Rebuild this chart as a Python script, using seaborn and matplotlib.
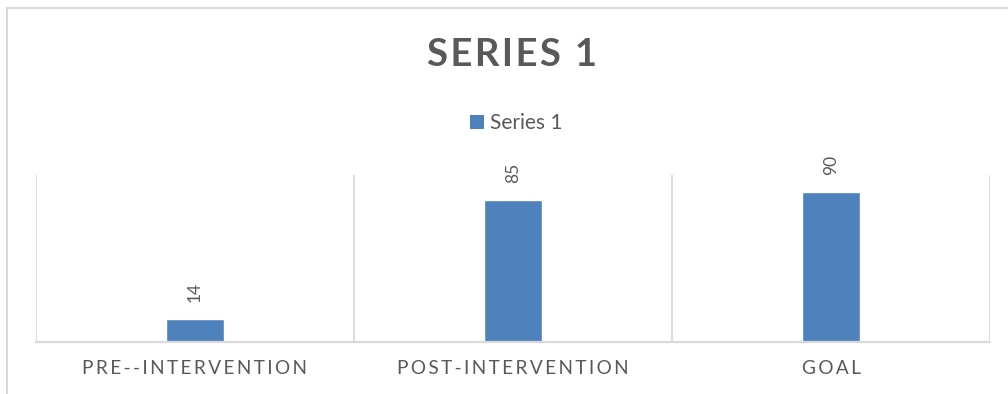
import matplotlib
matplotlib.use("Agg")
import matplotlib.pyplot as plt
from matplotlib.lines import Line2D
from matplotlib.patches import Patch
import seaborn as sns
import pandas as pd

categories = ["PRE--INTERVENTION", "POST-INTERVENTION", "GOAL"]
values = [14, 85, 90]
series_name = "Series 1"
title_text = "SERIES 1"

BLUE = "#4F81BD"
TEXT = "#595959"
GRID = "#D9D9D9"
FONTS = ["Lato", "DejaVu Sans"]


def spaced(s, sep="\u2009"):
    return sep.join(s)


sns.set_theme(style="white")
plt.rcParams["font.family"] = FONTS

df = pd.DataFrame({"category": categories, "value": values, "series": series_name})

fig = plt.figure(figsize=(10.08, 3.94), dpi=100)
W, H = 1008, 394
ax = fig.add_axes([36 / W, 52 / H, (990 - 36) / W, (342 - 175) / H])

sns.barplot(data=df, x="category", y="value", color=BLUE, width=0.18,
            saturation=1, ax=ax, legend=False)

ax.set_ylim(0, 100)
ax.set_xlim(-0.5, len(categories) - 0.5)
ax.set_xlabel("")
ax.set_ylabel("")
ax.set_yticks([])
ax.set_xticks(range(len(categories)))
ax.set_xticklabels([spaced(c) for c in categories], color=TEXT, fontsize=13.7)
ax.tick_params(axis="x", length=0, pad=13)

# category separators
ax.set_xticks([i - 0.5 for i in range(len(categories) + 1)], minor=True)
ax.tick_params(axis="x", which="minor", length=0)
ax.grid(True, which="minor", axis="x", color=GRID, linewidth=1.3)
ax.grid(False, which="major")

for side in ["top", "right", "left"]:
    ax.spines[side].set_visible(False)
ax.spines["bottom"].set_color(GRID)
ax.spines["bottom"].set_linewidth(1.6)

for cont in ax.containers:
    ax.bar_label(cont, labels=[str(v) for v in values], rotation=90,
                 padding=12, color=TEXT, fontsize=12.5)

fig.text(512 / W, 1 - 55 / H, spaced(title_text, "\u200a"), ha="center", va="center",
         fontsize=27.5, fontweight="bold", color=TEXT)

fig.legend(handles=[Patch(facecolor=BLUE, edgecolor="none", label=series_name)],
           loc="center left", bbox_to_anchor=(470 / W, 1 - 123 / H), frameon=False,
           fontsize=15, handlelength=0.65, handleheight=0.65, handletextpad=0.3,
           labelcolor=TEXT, borderpad=0, borderaxespad=0)

# outer chart frame
fig.add_artist(Line2D([7 / W, 7 / W], [0, 1 - 8 / H], transform=fig.transFigure,
                      color=GRID, linewidth=1.5))
fig.add_artist(Line2D([7 / W, 1], [1 - 8 / H, 1 - 8 / H], transform=fig.transFigure,
                      color=GRID, linewidth=1.5))

fig.savefig("out.png", dpi=100)
